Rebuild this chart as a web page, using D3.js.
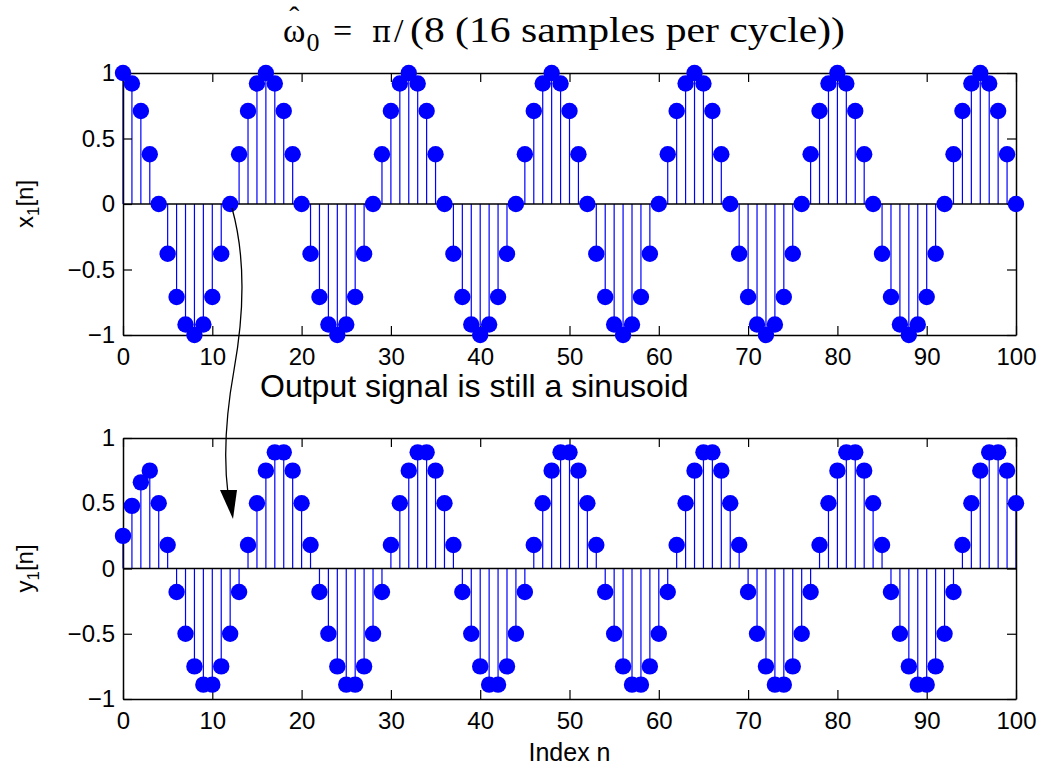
<!DOCTYPE html>
<html>
<head>
<meta charset="utf-8">
<title>Stem plots</title>
<script src="https://cdnjs.cloudflare.com/ajax/libs/d3/7.8.5/d3.min.js"></script>
<style>
    body { margin: 0; background: #fff; }
    text { font-family: "Liberation Sans", Arial, Helvetica, sans-serif; }
    text.serif { font-family: "Liberation Serif", "Times New Roman", serif; }
    text.greek { font-family: "DejaVu Serif", serif; }
</style>
</head>
<body>
<script type="text/javascript">
    // x1[n], n = 0..100
    var x1 = [
        1, 0.92, 0.71, 0.38, 0, -0.38, -0.71, -0.92, -1, -0.92, -0.71, -0.38, 0, 0.38, 0.71, 0.92,
        1, 0.92, 0.71, 0.38, 0, -0.38, -0.71, -0.92, -1, -0.92, -0.71, -0.38, 0, 0.38, 0.71, 0.92,
        1, 0.92, 0.71, 0.38, 0, -0.38, -0.71, -0.92, -1, -0.92, -0.71, -0.38, 0, 0.38, 0.71, 0.92,
        1, 0.92, 0.71, 0.38, 0, -0.38, -0.71, -0.92, -1, -0.92, -0.71, -0.38, 0, 0.38, 0.71, 0.92,
        1, 0.92, 0.71, 0.38, 0, -0.38, -0.71, -0.92, -1, -0.92, -0.71, -0.38, 0, 0.38, 0.71, 0.92,
        1, 0.92, 0.71, 0.38, 0, -0.38, -0.71, -0.92, -1, -0.92, -0.71, -0.38, 0, 0.38, 0.71, 0.92,
        1, 0.92, 0.71, 0.38, 0
    ];

    // y1[n], n = 0..100
    var y1 = [
        0.25, 0.48, 0.66, 0.75,
        0.5, 0.18, -0.18, -0.5, -0.75, -0.89, -0.89, -0.75, -0.5, -0.18, 0.18, 0.5, 0.75, 0.89, 0.89, 0.75,
        0.5, 0.18, -0.18, -0.5, -0.75, -0.89, -0.89, -0.75, -0.5, -0.18, 0.18, 0.5, 0.75, 0.89, 0.89, 0.75,
        0.5, 0.18, -0.18, -0.5, -0.75, -0.89, -0.89, -0.75, -0.5, -0.18, 0.18, 0.5, 0.75, 0.89, 0.89, 0.75,
        0.5, 0.18, -0.18, -0.5, -0.75, -0.89, -0.89, -0.75, -0.5, -0.18, 0.18, 0.5, 0.75, 0.89, 0.89, 0.75,
        0.5, 0.18, -0.18, -0.5, -0.75, -0.89, -0.89, -0.75, -0.5, -0.18, 0.18, 0.5, 0.75, 0.89, 0.89, 0.75,
        0.5, 0.18, -0.18, -0.5, -0.75, -0.89, -0.89, -0.75, -0.5, -0.18, 0.18, 0.5, 0.75, 0.89, 0.89, 0.75,
        0.5
    ];

    var xTicks = [0, 10, 20, 30, 40, 50, 60, 70, 80, 90, 100];
    var yTicks = [-1, -0.5, 0, 0.5, 1];

    var width = 1040,
        height = 766,
        left = 123,
        right = 1016,
        tick = 9,
        blue = "#0000ff";

    var svg = d3.select("body").append("svg")
        .attr("width", width)
        .attr("height", height);

    var x = d3.scaleLinear().domain([0, 100]).range([left, right]);

    function fmt(d) {
        return (d < 0 ? "\u2212" : "") + Math.abs(d);
    }

    function styleAxis(g) {
        g.attr("font-size", 24);
        g.select(".domain").attr("stroke-width", 1.5);
        g.selectAll(".tick line").attr("stroke-width", 1.2);
        g.selectAll(".tick text").attr("fill", "#000");
    }

    function renderPanel(values, top, bottom, name) {
        var y = d3.scaleLinear().domain([-1, 1]).range([bottom, top]);
        var g = svg.append("g");

        // stems
        g.selectAll("line.stem").data(values).enter().append("line")
            .attr("class", "stem")
            .attr("x1", function(d, i){ return x(i); })
            .attr("x2", function(d, i){ return x(i); })
            .attr("y1", y(0))
            .attr("y2", function(d){ return y(d); })
            .attr("stroke", blue)
            .attr("stroke-width", 1.2);

        // box with inward ticks
        g.append("g").attr("transform", "translate(0," + bottom + ")")
            .call(d3.axisBottom(x).tickValues(xTicks).tickFormat(fmt)
                .tickSizeInner(-tick).tickSizeOuter(0).tickPadding(13))
            .call(styleAxis);
        g.append("g").attr("transform", "translate(0," + top + ")")
            .call(d3.axisTop(x).tickValues(xTicks).tickFormat("")
                .tickSizeInner(-tick).tickSizeOuter(0))
            .call(styleAxis);
        g.append("g").attr("transform", "translate(" + left + ",0)")
            .call(d3.axisLeft(y).tickValues(yTicks).tickFormat(fmt)
                .tickSizeInner(-tick).tickSizeOuter(0).tickPadding(8))
            .call(styleAxis);
        g.append("g").attr("transform", "translate(" + right + ",0)")
            .call(d3.axisRight(y).tickValues(yTicks).tickFormat("")
                .tickSizeInner(-tick).tickSizeOuter(0))
            .call(styleAxis);

        // stem baseline
        g.append("line")
            .attr("x1", x(0)).attr("x2", x(100))
            .attr("y1", y(0)).attr("y2", y(0))
            .attr("stroke", "#000")
            .attr("stroke-width", 1.5);

        // markers
        g.selectAll("circle").data(values).enter().append("circle")
            .attr("cx", function(d, i){ return x(i); })
            .attr("cy", function(d){ return y(d); })
            .attr("r", 8.2)
            .attr("fill", blue);

        // y label, e.g. x_1[n]
        var lab = g.append("text")
            .attr("transform", "translate(33," + y(0) + ") rotate(-90)")
            .attr("text-anchor", "middle")
            .attr("font-size", 24);
        lab.append("tspan").text(name);
        lab.append("tspan").attr("font-size", 17).attr("dy", 6).text("1");
        lab.append("tspan").attr("dy", -6).text("[n]");
        return y;
    }

    var yTop = renderPanel(x1, 73, 335, "x");
    var yBot = renderPanel(y1, 438, 699, "y");

    // x label
    svg.append("text")
        .attr("x", x(50)).attr("y", 761)
        .attr("text-anchor", "middle")
        .attr("font-size", 25)
        .text("Index n");

    // annotation
    svg.append("text")
        .attr("x", 260).attr("y", 397)
        .attr("font-size", 32)
        .text("Output signal is still a sinusoid");

    svg.append("path")
        .attr("d", "M232,208 C247,262 243,320 234,370 S224,462 228,494")
        .attr("fill", "none")
        .attr("stroke", "#000")
        .attr("stroke-width", 1.3);
    svg.append("path")
        .attr("d", "M220,490 L237,490 L233,519 Z")
        .attr("fill", "#000");

    // title: omega-hat_0 = pi/(8 (16 samples per cycle))
    var tg = svg.append("g");
    var om = tg.append("text").attr("class", "serif")
        .attr("x", 283).attr("y", 42)
        .attr("font-size", 34).text("\u03c9");
    var ow = om.node().getComputedTextLength();
    tg.append("text").attr("class", "serif")
        .attr("x", 283 + ow / 2).attr("y", 27)
        .attr("text-anchor", "middle")
        .attr("font-size", 30).text("\u02c6");
    tg.append("text").attr("class", "serif")
        .attr("x", 284 + ow).attr("y", 51)
        .attr("font-size", 26).text("0");
    tg.append("text").attr("class", "serif")
        .attr("x", 333).attr("y", 42)
        .attr("font-size", 34).text("=");
    tg.append("text").attr("class", "greek")
        .attr("x", 372).attr("y", 42)
        .attr("font-size", 29).text("\u03c0");
    tg.append("text").attr("class", "serif")
        .attr("x", 394).attr("y", 42)
        .attr("font-size", 34).text("/");
    tg.append("text").attr("class", "serif")
        .attr("x", 410).attr("y", 42)
        .attr("font-size", 36)
        .attr("textLength", 435)
        .attr("lengthAdjust", "spacingAndGlyphs")
        .text("(8 (16 samples per cycle))");
</script>
</body>
</html>
